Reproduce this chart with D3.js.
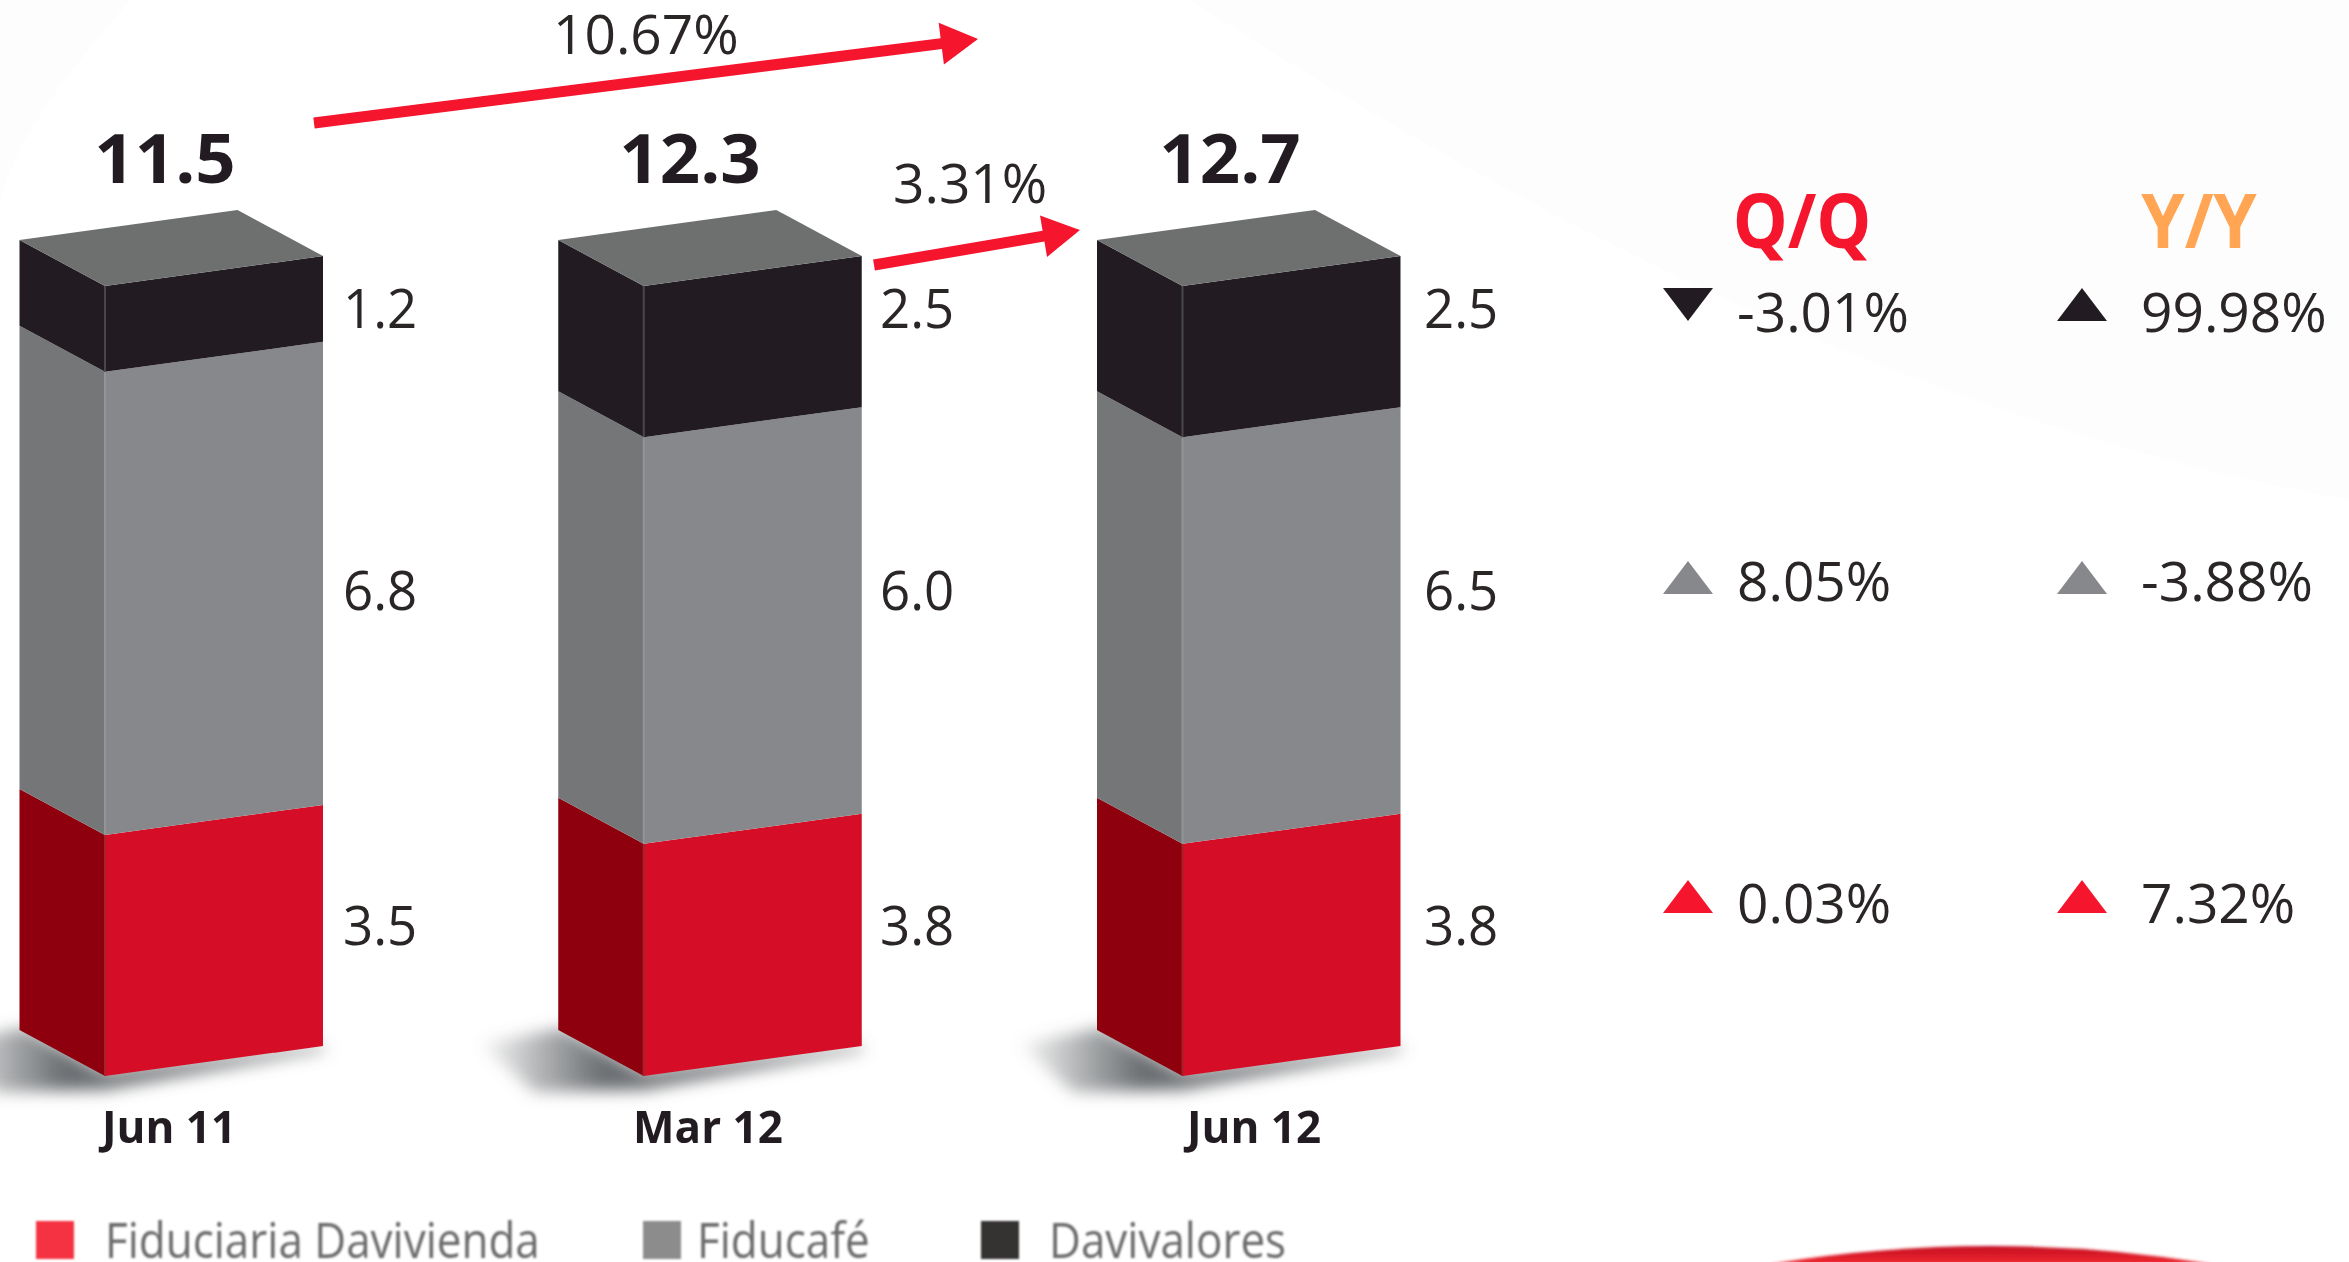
<!DOCTYPE html>
<html>
<head>
<meta charset="utf-8">
<script src="https://cdn.jsdelivr.net/npm/d3@7/dist/d3.min.js"></script>
<style>
html,body{margin:0;padding:0;background:#fff;overflow:hidden}
svg{display:block}
text{font-family:"Open Sans","Noto Sans",sans-serif}
</style>
</head>
<body>
<svg id="chart" width="2349" height="1262"></svg>
<script>
// ---- data ----
const categories = ["Jun 11", "Mar 12", "Jun 12"];
const seriesNames = ["Fiduciaria Davivienda", "Fiducafé", "Davivalores"];
// Printed labels
const labelFiduciaria = ["3.5", "3.8", "3.8"];
const labelFiducafe = ["6.8", "6.0", "6.5"];
const labelDavivalores = ["1.2", "2.5", "2.5"];
const totals = ["11.5", "12.3", "12.7"];
// Segment sizes as actually drawn in the picture (all columns are the same height there)
const drawnFiduciaria = [3.51, 3.38, 3.38];
const drawnFiducafe = [6.74, 5.92, 5.92];
const drawnDavivalores = [1.25, 2.20, 2.20];
const growthLabels = ["10.67%", "3.31%"];
const columnHeads = ["Q/Q", "Y/Y"];
const qqValues = ["-3.01%", "8.05%", "0.03%"];
const yyValues = ["99.98%", "-3.88%", "7.32%"];
const qqDirections = ["down", "up", "up"];
const yyDirections = ["up", "up", "up"];

// ---- styles ----
const frontColors = ["#d51125", "#87888b", "#231f20"];
const sideColors = ["#8e000d", "#757678", "#231f20"];
const topColor = "#6e6f70";
const legendColors = ["#f53342", "#8c8c8c", "#353333"];
const markerColors = ["#231f20", "#87888b", "#f5142e"];
const RED = "#f5142e", ORANGE = "#ffa552", INK = "#2b2728";

const svg = d3.select("#chart");
const defs = svg.append("defs");
defs.append("filter").attr("id", "soft").attr("x", "-2%").attr("y", "-2%").attr("width", "104%").attr("height", "104%")
  .append("feGaussianBlur").attr("stdDeviation", 0.7);
defs.append("filter").attr("id", "softer").attr("x", "-5%").attr("y", "-50%").attr("width", "110%").attr("height", "200%")
  .append("feGaussianBlur").attr("stdDeviation", 1.1);
defs.append("filter").attr("id", "shadowBlur").attr("x", "-30%").attr("y", "-60%").attr("width", "160%").attr("height", "220%")
  .append("feGaussianBlur").attr("stdDeviation", 8);
defs.append("filter").attr("id", "arcBlur").attr("x", "-10%").attr("y", "-100%").attr("width", "120%").attr("height", "300%")
  .append("feGaussianBlur").attr("stdDeviation", 1.6);
const sg = defs.append("linearGradient").attr("id", "shadowFade").attr("x1", 0).attr("x2", 1).attr("y1", 0).attr("y2", 0);
sg.append("stop").attr("offset", 0).attr("stop-color", "#6b6e71").attr("stop-opacity", 0.05);
sg.append("stop").attr("offset", 0.32).attr("stop-color", "#6b6e71").attr("stop-opacity", 1);
sg.append("stop").attr("offset", 1).attr("stop-color", "#6b6e71").attr("stop-opacity", 0.9);
const ag = defs.append("linearGradient").attr("id", "arcFill").attr("x1", 0).attr("x2", 0).attr("y1", 0).attr("y2", 1);
ag.append("stop").attr("offset", 0).attr("stop-color", "#c40f22");
ag.append("stop").attr("offset", 1).attr("stop-color", "#f0282f");

// ---- faint page background ----
const bg = svg.append("g");
bg.append("path").attr("fill", "#fdfdfd")
  .attr("d", "M1190,0 C1500,200 1900,420 2349,500 L2349,0 Z");
bg.append("path").attr("fill", "#fdfdfd")
  .attr("d", "M0,200 C20,130 70,70 130,0 L0,0 Z");
bg.append("path").attr("fill", "url(#arcFill)").attr("filter", "url(#arcBlur)")
  .attr("d", "M1770,1264 Q1990,1228 2212,1264 Z");

const root = svg.append("g").attr("filter", "url(#soft)");

// ---- scales ----
const barWidth = 218, depthX = 85.5, depthY = 46, slopeY = 30;
const x = d3.scalePoint().domain(categories).range([19.5, 1097]);   // left edge of each column
const y = d3.scaleLinear().domain([0, 11.5]).range([1076, 286]);    // along the front corner

const rows = categories.map((c, i) => ({
  category: c,
  [seriesNames[0]]: drawnFiduciaria[i],
  [seriesNames[1]]: drawnFiducafe[i],
  [seriesNames[2]]: drawnDavivalores[i]
}));
const stacked = d3.stack().keys(seriesNames)(rows);
const line = d3.line();

// ---- shadows ----
categories.forEach(c => {
  const l = x(c), f = l + depthX, b = y(0);
  root.append("path").attr("filter", "url(#shadowBlur)").attr("fill", "url(#shadowFade)")
    .attr("d", line([[l - 78, b - 32], [l + 4, b - 48], [f, b - 4], [f + barWidth, b - slopeY], [f + barWidth + 2, b - 26], [f, b + 14], [l - 24, b + 16]]) + "Z");
});

// ---- columns ----
const columns = root.selectAll("g.column").data(categories).join("g").attr("class", "column");
stacked.forEach((layer, s) => {
  layer.forEach((d, i) => {
    const g = columns.filter((_, k) => k === i);
    const l = x(categories[i]), f = l + depthX, r = f + barWidth;
    const y0 = y(d[0]), y1 = y(d[1]);
    g.append("path").attr("fill", sideColors[s])
      .attr("d", line([[l, y1 - depthY], [f, y1], [f, y0], [l, y0 - depthY]]) + "Z");
    g.append("path").attr("fill", frontColors[s])
      .attr("d", line([[f, y1], [r, y1 - slopeY], [r, y0 - slopeY], [f, y0]]) + "Z");
    g.append("line").attr("x1", f).attr("x2", f).attr("y1", y1).attr("y2", y0)
      .attr("stroke", s === 0 ? "#a8232c" : s === 1 ? "#939497" : "#4a4748").attr("stroke-width", 2);
  });
});
categories.forEach(c => {
  const l = x(c), f = l + depthX, r = f + barWidth, t = y(11.5);
  root.append("path").attr("fill", topColor)
    .attr("d", line([[l, t - depthY], [f, t], [r, t - slopeY], [r - depthX, t - slopeY - depthY]]) + "Z");
});

// ---- text helper ----
function label(parent, str, px, py, size, weight, fill, anchor, sx) {
  return parent.append("text").text(str)
    .attr("transform", `translate(${px},${py}) scale(${sx},1)`)
    .attr("font-size", size).attr("font-weight", weight).attr("fill", fill)
    .attr("text-anchor", anchor);
}

// ---- totals, segment labels, categories ----
const totalCentres = [165, 690, 1230];
const labelLeft = [343, 880, 1424];
const categoryCentres = [169, 708, 1254];
categories.forEach((c, i) => {
  label(root, totals[i], totalCentres[i], 183, 68, 700, "#231f20", "middle", 1.04);
  label(root, labelDavivalores[i], labelLeft[i], 328, 55, 400, INK, "start", 0.96);
  label(root, labelFiducafe[i], labelLeft[i], 610, 55, 400, INK, "start", 0.96);
  label(root, labelFiduciaria[i], labelLeft[i], 945, 55, 400, INK, "start", 0.96);
  label(root, c, categoryCentres[i], 1143, 44, 700, "#231f20", "middle", 1.0);
});

// ---- growth arrows ----
function arrow(x0, y0, x1, y1) {
  const a = Math.atan2(y1 - y0, x1 - x0), len = Math.hypot(x1 - x0, y1 - y0);
  const head = 37, half = 21, w = 5.5;
  const pts = [[0, -w], [len - head, -w], [len - head, -half], [len, 0], [len - head, half], [len - head, w], [0, w]];
  root.append("path").attr("fill", RED)
    .attr("d", line(pts.map(p => [x0 + p[0] * Math.cos(a) - p[1] * Math.sin(a), y0 + p[0] * Math.sin(a) + p[1] * Math.cos(a)])) + "Z");
}
arrow(314, 123, 978, 39);
arrow(874, 265, 1080, 230);
label(root, growthLabels[0], 553, 54, 55, 400, INK, "start", 1.0);
label(root, growthLabels[1], 893, 203, 55, 400, INK, "start", 1.0);

// ---- Q/Q and Y/Y panel ----
label(root, columnHeads[0], 1802, 248, 76, 700, RED, "middle", 0.91);
label(root, columnHeads[1], 2199, 248, 76, 700, ORANGE, "middle", 0.915);

const rowBaselines = [332, 601, 923];
const markerTops = [288, 561, 880];
function marker(cx, top, dir, fill) {
  const w = 25, h = 33;
  const pts = dir === "up"
    ? [[cx - w, top + h], [cx, top], [cx + w, top + h]]
    : [[cx - w, top], [cx + w, top], [cx, top + h]];
  root.append("path").attr("fill", fill).attr("d", line(pts) + "Z");
}
qqValues.forEach((v, i) => {
  marker(1688, markerTops[i], qqDirections[i], markerColors[i]);
  label(root, v, 1737, rowBaselines[i], 55, 400, INK, "start", 1.0);
});
yyValues.forEach((v, i) => {
  marker(2082, markerTops[i], yyDirections[i], markerColors[i]);
  label(root, v, 2141, rowBaselines[i], 55, 400, INK, "start", 1.0);
});

// ---- legend ----
const legend = svg.append("g").attr("filter", "url(#softer)");
const legendSwatchX = [36, 643, 981];
const legendTextX = [105, 697, 1049];
seriesNames.forEach((n, i) => {
  legend.append("rect").attr("x", legendSwatchX[i]).attr("y", 1221).attr("width", 38).attr("height", 38).attr("fill", legendColors[i]);
  label(legend, n, legendTextX[i], 1258, 50, 400, "#6a6a6a", "start", 0.88);
});
</script>
</body>
</html>
